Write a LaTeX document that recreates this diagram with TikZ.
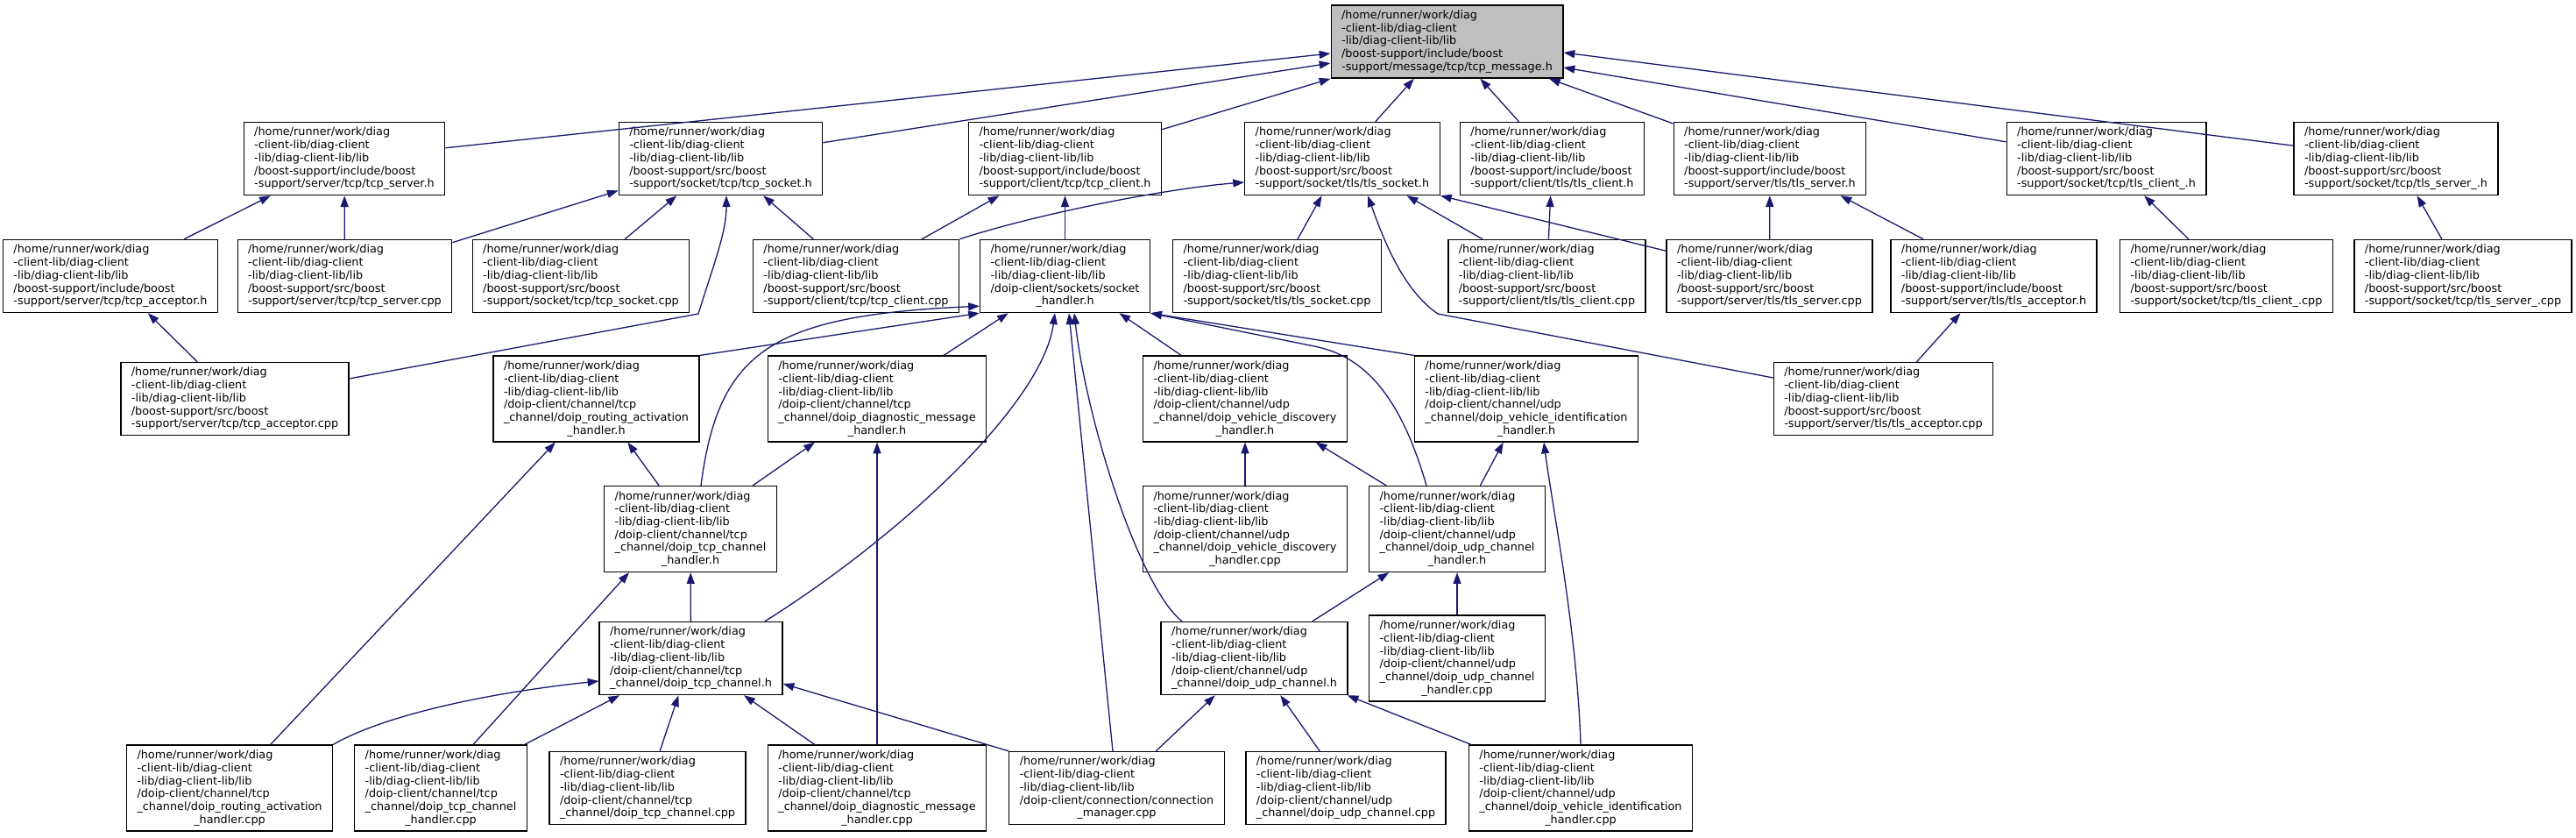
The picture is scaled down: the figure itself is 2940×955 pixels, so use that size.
\documentclass[tikz,border=0pt]{standalone}
\usepackage{fontspec}
\usepackage{tikz}
\usetikzlibrary{arrows.meta}
\newfontfamily\graphfont{DejaVu Sans}
\newcommand{\libdir}{/home/runner/work/diag\\-client-lib/diag-client\\-lib/diag-client-lib/lib\\}
\newcommand{\lastline}[1]{\hspace*{\fill}#1\hspace*{\fill}}
\definecolor{edgeblue}{RGB}{25,25,112}
\definecolor{rootgray}{RGB}{191,191,191}
\tikzset{
  filenode/.style={draw=black, line width=0.65pt, fill=white,
                   font=\graphfont\fontsize{6.4pt}{7.35pt}\selectfont,
                   align=left, inner xsep=6pt, inner ysep=2.9pt},
  rootnode/.style={filenode, fill=rootgray},
  dep/.style={draw=edgeblue, line width=0.65pt,
              -{Triangle[length=6.4pt,width=4.5pt]}},
}

\begin{document}
\begin{tikzpicture}[x=0.5pt,y=-0.5pt]
  \fill[white] (0,0) rectangle (2940,955);
  \path[use as bounding box] (0,0) rectangle (2940,955);

  \node[rootnode] (ROOT) at (1651.5,47.5)
    {\libdir/boost-support/include/boost\\-support/message/tcp/tcp\_message.h};

  \node[filenode] (TCPSRVH) at (393,181)
    {\libdir/boost-support/include/boost\\-support/server/tcp/tcp\_server.h};
  \node[filenode] (TCPSOCKH) at (822.5,181)
    {\libdir/boost-support/src/boost\\-support/socket/tcp/tcp\_socket.h};
  \node[filenode] (TCPCLIH) at (1215.5,181)
    {\libdir/boost-support/include/boost\\-support/client/tcp/tcp\_client.h};
  \node[filenode] (TLSSOCKH) at (1532,181)
    {\libdir/boost-support/src/boost\\-support/socket/tls/tls\_socket.h};
  \node[filenode] (TLSCLIH) at (1771.5,181)
    {\libdir/boost-support/include/boost\\-support/client/tls/tls\_client.h};
  \node[filenode] (TLSSRVH) at (2020,181)
    {\libdir/boost-support/include/boost\\-support/server/tls/tls\_server.h};
  \node[filenode] (TLSCLIUH) at (2404,181)
    {\libdir/boost-support/src/boost\\-support/socket/tcp/tls\_client\_.h};
  \node[filenode] (TLSSRVUH) at (2734.5,181)
    {\libdir/boost-support/src/boost\\-support/socket/tcp/tls\_server\_.h};

  \node[filenode] (TCPACCH) at (126,315)
    {\libdir/boost-support/include/boost\\-support/server/tcp/tcp\_acceptor.h};
  \node[filenode] (TCPSRVCPP) at (393.5,315)
    {\libdir/boost-support/src/boost\\-support/server/tcp/tcp\_server.cpp};
  \node[filenode] (TCPSOCKCPP) at (663,315)
    {\libdir/boost-support/src/boost\\-support/socket/tcp/tcp\_socket.cpp};
  \node[filenode] (TCPCLICPP) at (977,315)
    {\libdir/boost-support/src/boost\\-support/client/tcp/tcp\_client.cpp};
  \node[filenode] (SOCKHDLH) at (1215.5,315)
    {\libdir/doip-client/sockets/socket\\\lastline{\_handler.h}};
  \node[filenode] (TLSSOCKCPP) at (1457.5,315)
    {\libdir/boost-support/src/boost\\-support/socket/tls/tls\_socket.cpp};
  \node[filenode] (TLSCLICPP) at (1765.5,315)
    {\libdir/boost-support/src/boost\\-support/client/tls/tls\_client.cpp};
  \node[filenode] (TLSSRVCPP) at (2019.5,315)
    {\libdir/boost-support/src/boost\\-support/server/tls/tls\_server.cpp};
  \node[filenode] (TLSACCH) at (2275.5,315)
    {\libdir/boost-support/include/boost\\-support/server/tls/tls\_acceptor.h};
  \node[filenode] (TLSCLIUCPP) at (2541,315)
    {\libdir/boost-support/src/boost\\-support/socket/tcp/tls\_client\_.cpp};
  \node[filenode] (TLSSRVUCPP) at (2811,315)
    {\libdir/boost-support/src/boost\\-support/socket/tcp/tls\_server\_.cpp};

  \node[filenode] (TCPACCCPP) at (268,455)
    {\libdir/boost-support/src/boost\\-support/server/tcp/tcp\_acceptor.cpp};
  \node[filenode] (ROUTEH) at (680.5,455)
    {\libdir/doip-client/channel/tcp\\\_channel/doip\_routing\_activation\\\lastline{\_handler.h}};
  \node[filenode] (DIAGH) at (1001,455)
    {\libdir/doip-client/channel/tcp\\\_channel/doip\_diagnostic\_message\\\lastline{\_handler.h}};
  \node[filenode] (DISCOVH) at (1421,455)
    {\libdir/doip-client/channel/udp\\\_channel/doip\_vehicle\_discovery\\\lastline{\_handler.h}};
  \node[filenode] (IDENTH) at (1742,455)
    {\libdir/doip-client/channel/udp\\\_channel/doip\_vehicle\_identification\\\lastline{\_handler.h}};
  \node[filenode] (TLSACCCPP) at (2149.5,455)
    {\libdir/boost-support/src/boost\\-support/server/tls/tls\_acceptor.cpp};

  \node[filenode] (TCPHDLH) at (788,603.5)
    {\libdir/doip-client/channel/tcp\\\_channel/doip\_tcp\_channel\\\lastline{\_handler.h}};
  \node[filenode] (DISCOVCPP) at (1421,603.5)
    {\libdir/doip-client/channel/udp\\\_channel/doip\_vehicle\_discovery\\\lastline{\_handler.cpp}};
  \node[filenode] (UDPHDLH) at (1663,603.5)
    {\libdir/doip-client/channel/udp\\\_channel/doip\_udp\_channel\\\lastline{\_handler.h}};

  \node[filenode] (TCPCHANH) at (788.5,751)
    {\libdir/doip-client/channel/tcp\\\_channel/doip\_tcp\_channel.h};
  \node[filenode] (UDPCHANH) at (1431.5,751)
    {\libdir/doip-client/channel/udp\\\_channel/doip\_udp\_channel.h};
  \node[filenode] (UDPHDLCPP) at (1663,751)
    {\libdir/doip-client/channel/udp\\\_channel/doip\_udp\_channel\\\lastline{\_handler.cpp}};

  \node[filenode] (ROUTECPP) at (262,899)
    {\libdir/doip-client/channel/tcp\\\_channel/doip\_routing\_activation\\\lastline{\_handler.cpp}};
  \node[filenode] (TCPHDLCPP) at (503,899)
    {\libdir/doip-client/channel/tcp\\\_channel/doip\_tcp\_channel\\\lastline{\_handler.cpp}};
  \node[filenode] (TCPCHANCPP) at (739,899)
    {\libdir/doip-client/channel/tcp\\\_channel/doip\_tcp\_channel.cpp};
  \node[filenode] (DIAGCPP) at (1001,899)
    {\libdir/doip-client/channel/tcp\\\_channel/doip\_diagnostic\_message\\\lastline{\_handler.cpp}};
  \node[filenode] (CONNMGRCPP) at (1274.5,899)
    {\libdir/doip-client/connection/connection\\\lastline{\_manager.cpp}};
  \node[filenode] (UDPCHANCPP) at (1536,899)
    {\libdir/doip-client/channel/udp\\\_channel/doip\_udp\_channel.cpp};
  \node[filenode] (IDENTCPP) at (1804,899)
    {\libdir/doip-client/channel/udp\\\_channel/doip\_vehicle\_identification\\\lastline{\_handler.cpp}};

  \coordinate (BENDA) at (797,358);
  \coordinate (BENDB) at (1500,395);
  \coordinate (BENDC) at (1641,358);

  \draw[dep] (TCPSRVH) -- ([yshift=-6.75pt]ROOT.west);
  \draw[dep] (TCPSOCKH) -- ([yshift=-12.25pt]ROOT.west);
  \draw[dep] (TCPCLIH) -- (ROOT.south west);
  \draw[dep] (TLSSOCKH) -- (ROOT);
  \draw[dep] (TLSCLIH) -- (ROOT);
  \draw[dep] (TLSSRVH) -- (ROOT);
  \draw[dep] (TLSCLIUH) -- ([yshift=-14.75pt]ROOT.east);
  \draw[dep] (TLSSRVUH) -- ([yshift=-6.25pt]ROOT.east);

  \draw[dep] (TCPACCH) -- (TCPSRVH);
  \draw[dep] (TCPSRVCPP) -- (TCPSRVH);
  \draw[dep] (TCPSRVCPP) -- (TCPSOCKH);
  \draw[dep] (TCPSOCKCPP) -- (TCPSOCKH);
  \draw[dep] (TCPCLICPP) -- (TCPSOCKH);
  \draw[dep] (TCPCLICPP) -- (TCPCLIH);
  \draw[dep] (TCPCLICPP.north east) .. controls (1180,245) and (1330,215) .. ([yshift=-13.5pt]TLSSOCKH.west);
  \draw[dep] (SOCKHDLH) -- (TCPCLIH);
  \draw[dep] (TLSSOCKCPP) -- (TLSSOCKH);
  \draw[dep] (TLSCLICPP) -- (TLSSOCKH);
  \draw[dep] (TLSCLICPP) -- (TLSCLIH);
  \draw[dep] (TLSSRVCPP) -- (TLSSOCKH.south east);
  \draw[dep] (TLSSRVCPP) -- (TLSSRVH);
  \draw[dep] (TLSACCH) -- (TLSSRVH);
  \draw[dep] (TLSCLIUCPP) -- (TLSCLIUH);
  \draw[dep] (TLSSRVUCPP) -- (TLSSRVUH);

  \draw[dep] (TCPACCCPP.10) -- (BENDA) .. controls (815,300) and (829,265) .. ([xshift=3.25pt]TCPSOCKH.south);
  \draw[dep] ([yshift=12pt]TLSACCCPP.west) -- (BENDC) .. controls (1600,330) and (1578,270) .. ([xshift=14.5pt]TLSSOCKH.south);
  \draw[dep] (TCPACCCPP) -- (TCPACCH);
  \draw[dep] (TLSACCCPP) -- (TLSACCH);

  \draw[dep] (ROUTEH.north east) -- (SOCKHDLH.south west);
  \draw[dep] ([xshift=6pt]TCPHDLH.north) .. controls (820,400) and (880,360) .. ([yshift=4pt]SOCKHDLH.south west);
  \draw[dep] (DIAGH) -- (SOCKHDLH);
  \draw[dep] ([xshift=42.25pt]TCPCHANH.north) .. controls (1030,610) and (1190,460) .. ([xshift=-5.75pt]SOCKHDLH.south);
  \draw[dep] ([xshift=-2.25pt]CONNMGRCPP.north) -- ([xshift=2.25pt]SOCKHDLH.south);
  \draw[dep] ([xshift=-41.25pt]UDPCHANH.north) .. controls (1300,670) and (1240,480) .. ([xshift=5.25pt]SOCKHDLH.south);
  \draw[dep] (DISCOVH) -- (SOCKHDLH);
  \draw[dep] ([xshift=-17.5pt]UDPHDLH.north) .. controls (1598,450) and (1556,406) .. (BENDB) -- (SOCKHDLH.south east);
  \draw[dep] (IDENTH.north west) -- (SOCKHDLH.south east);

  \draw[dep] (ROUTECPP) -- (ROUTEH);
  \draw[dep] (TCPHDLH) -- (ROUTEH);
  \draw[dep] (TCPHDLH) -- (DIAGH);
  \draw[dep] (DIAGCPP) -- (DIAGH);
  \draw[dep] (DISCOVCPP) -- (DISCOVH);
  \draw[dep] (UDPHDLH) -- (DISCOVH);
  \draw[dep] (UDPHDLH) -- (IDENTH);
  \draw[dep] (IDENTCPP.north) .. controls (1800,720) and (1772,580) .. ([xshift=10pt]IDENTH.south);

  \draw[dep] ([xshift=18.5pt]TCPHDLCPP.north) -- ([xshift=-35pt]TCPHDLH.south);
  \draw[dep] (TCPCHANH) -- (TCPHDLH);
  \draw[dep] (TCPHDLCPP) -- (TCPCHANH);
  \draw[dep] (ROUTECPP.north east) .. controls (440,815) and (560,790) .. ([yshift=-13pt]TCPCHANH.west);
  \draw[dep] (TCPCHANCPP) -- (TCPCHANH);
  \draw[dep] (DIAGCPP) -- (TCPCHANH);
  \draw[dep] (CONNMGRCPP.north west) -- ([yshift=-14.5pt]TCPCHANH.east);
  \draw[dep] (UDPCHANH) -- (UDPHDLH);
  \draw[dep] (UDPHDLCPP) -- (UDPHDLH);
  \draw[dep] (CONNMGRCPP) -- (UDPCHANH);
  \draw[dep] (UDPCHANCPP) -- (UDPCHANH);
  \draw[dep] (IDENTCPP) -- (UDPCHANH);
\end{tikzpicture}
\end{document}
